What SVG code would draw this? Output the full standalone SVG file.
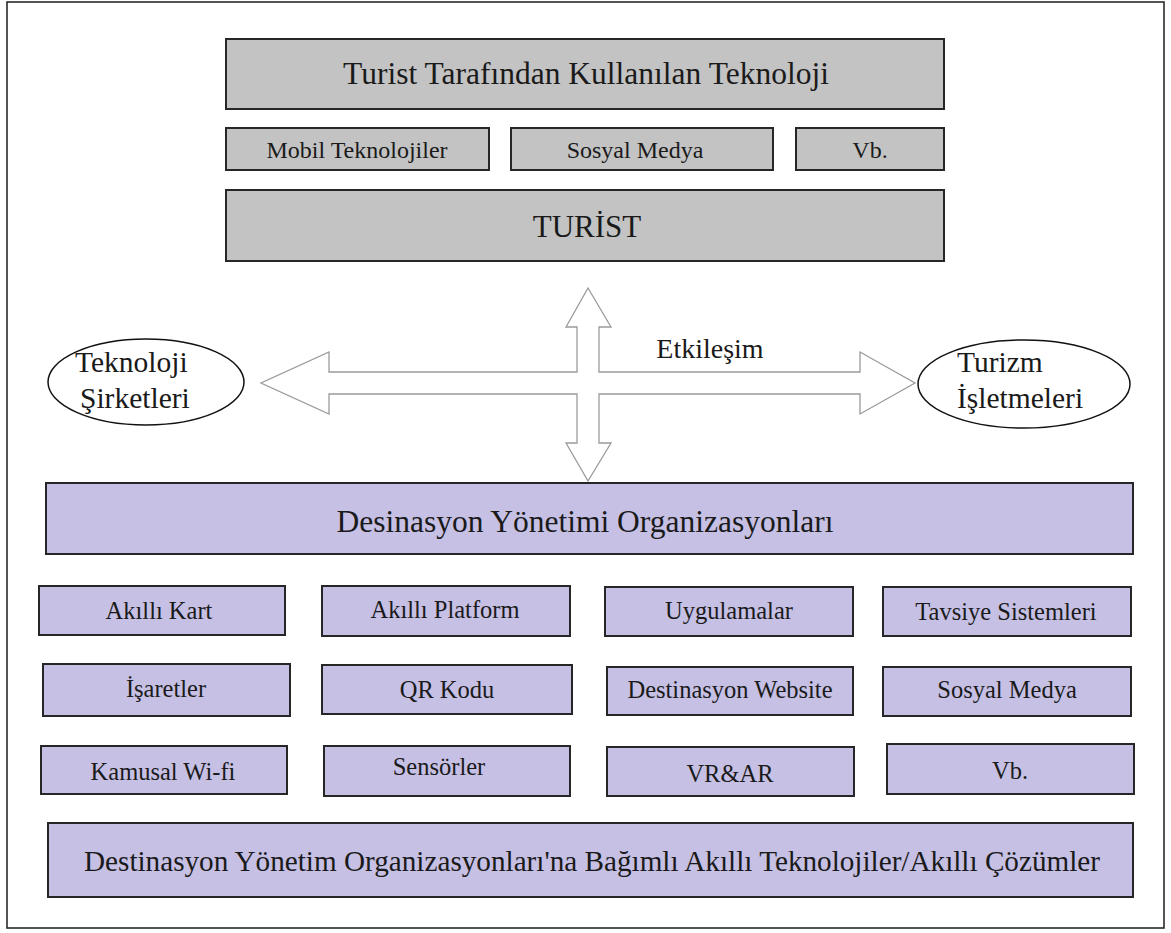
<svg xmlns="http://www.w3.org/2000/svg" width="1171" height="933" viewBox="0 0 1171 933" font-family="'Liberation Serif', Tinos, 'Times New Roman', 'DejaVu Serif', serif">
<style>
text{font-family:'Liberation Serif',Tinos,'Times New Roman','DejaVu Serif',serif}
.t{fill:#1a1a1a;text-anchor:middle}
.s{fill:#1a1a1a;text-anchor:start}
.g{fill:#c3c3c3;stroke:#262626;stroke-width:2}
.p{fill:#c6c0e5;stroke:#262626;stroke-width:2}
.e{fill:#fff;stroke:#111;stroke-width:1.5}
.arr{fill:#fff;stroke:#9a9a9a;stroke-width:1.3;stroke-linejoin:miter}
</style>
<rect x="0" y="0" width="1171" height="933" fill="#fff"/>
<rect x="7" y="2" width="1157" height="926" fill="#fff" stroke="#2a2a2a" stroke-width="1.6"/>

<g id="connectors">
<polygon class="arr" points="588,288 611,327 599,327 599,372 860,372 860,352 915,383 860,414 860,394 599,394 599,443 611,443 588,481 566,443 577,443 577,394 329,394 329,414 261,383 329,352 329,372 577,372 577,327 566,327"/>
<text class="t" x="710" y="358" font-size="28">Etkileşim</text>
</g>

<g id="top-title"><rect class="g" x="226" y="39" width="718" height="70"/><text class="t" x="586" y="84" font-size="31.5">Turist Tarafından Kullanılan Teknoloji</text></g>
<g id="mobil"><rect class="g" x="226" y="128" width="263" height="42"/><text class="t" x="357" y="158" font-size="24">Mobil Teknolojiler</text></g>
<g id="sosyal-top"><rect class="g" x="511" y="128" width="262" height="42"/><text class="t" x="635" y="158" font-size="24">Sosyal Medya</text></g>
<g id="vb-top"><rect class="g" x="796" y="128" width="148" height="42"/><text class="t" x="870" y="158" font-size="24">Vb.</text></g>
<g id="turist"><rect class="g" x="226" y="190" width="718" height="71"/><text class="t" x="587" y="237" font-size="31">TURİST</text></g>

<g id="teknoloji-sirketleri"><ellipse class="e" cx="146" cy="382" rx="98" ry="43"/><text class="s" x="75" y="372" font-size="29.5">Teknoloji</text><text class="s" x="80" y="408" font-size="29.5">Şirketleri</text></g>
<g id="turizm-isletmeleri"><ellipse class="e" cx="1024" cy="384" rx="106" ry="44"/><text class="s" x="957" y="372" font-size="29.5">Turizm</text><text class="s" x="957" y="408" font-size="29.5">İşletmeleri</text></g>

<g id="dyo"><rect class="p" x="46" y="483" width="1087" height="71"/><text class="t" x="585" y="532" font-size="31.5">Desinasyon Yönetimi Organizasyonları</text></g>

<g id="akilli-kart"><rect class="p" x="39" y="586" width="246" height="49"/><text class="t" x="159" y="619" font-size="24.5">Akıllı Kart</text></g>
<g id="akilli-platform"><rect class="p" x="322" y="586" width="248" height="50"/><text class="t" x="445" y="618" font-size="24.5">Akıllı Platform</text></g>
<g id="uygulamalar"><rect class="p" x="605" y="587" width="248" height="49"/><text class="t" x="729" y="619" font-size="24.5">Uygulamalar</text></g>
<g id="tavsiye"><rect class="p" x="883" y="587" width="248" height="49"/><text class="t" x="1006" y="620" font-size="24.5">Tavsiye Sistemleri</text></g>

<g id="isaretler"><rect class="p" x="43" y="664" width="247" height="52"/><text class="t" x="166" y="697" font-size="24.5">İşaretler</text></g>
<g id="qr"><rect class="p" x="322" y="665" width="250" height="49"/><text class="t" x="447" y="698" font-size="24.5">QR Kodu</text></g>
<g id="dest-web"><rect class="p" x="607" y="667" width="246" height="48"/><text class="t" x="730" y="698" font-size="24.5">Destinasyon Website</text></g>
<g id="sosyal"><rect class="p" x="883" y="667" width="248" height="49"/><text class="t" x="1007" y="698" font-size="24.5">Sosyal Medya</text></g>

<g id="kamusal"><rect class="p" x="41" y="746" width="246" height="48"/><text class="t" x="163" y="780" font-size="24.5">Kamusal Wi-fi</text></g>
<g id="sensorler"><rect class="p" x="324" y="746" width="246" height="50"/><text class="t" x="439" y="775" font-size="24.5">Sensörler</text></g>
<g id="vr-ar"><rect class="p" x="607" y="747" width="247" height="49"/><text class="t" x="730" y="782" font-size="24.5">VR&amp;AR</text></g>
<g id="vb"><rect class="p" x="887" y="744" width="247" height="50"/><text class="t" x="1010" y="779" font-size="24.5">Vb.</text></g>

<g id="bottom"><rect class="p" x="48" y="823" width="1085" height="74"/><text class="t" x="592" y="871" font-size="29.2">Destinasyon Yönetim Organizasyonları'na Bağımlı Akıllı Teknolojiler/Akıllı Çözümler</text></g>
</svg>
